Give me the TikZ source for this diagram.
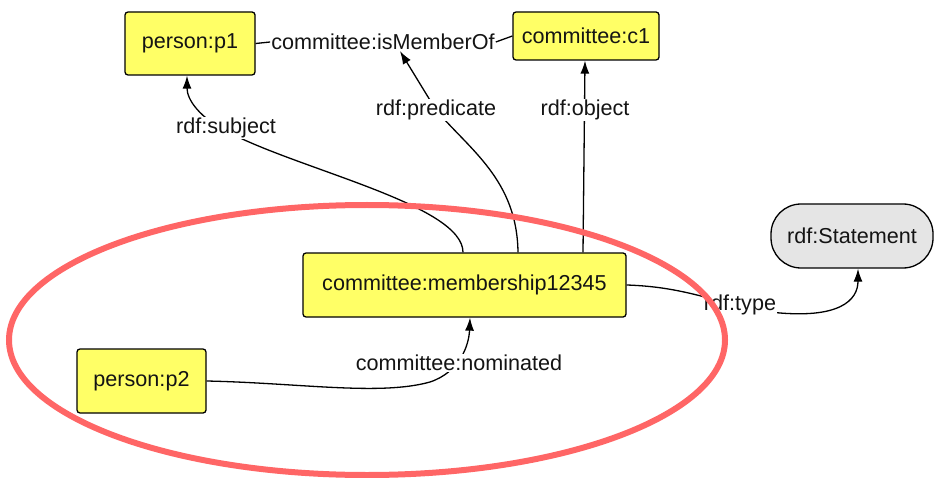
\documentclass[tikz,border=0pt]{standalone}
\usepackage{fontspec}
\setmainfont{Liberation Sans}
\usetikzlibrary{arrows.meta}
\definecolor{boxyellow}{RGB}{255,255,102}
\definecolor{stgray}{RGB}{229,229,229}
\definecolor{ringred}{RGB}{255,102,102}
\definecolor{txt}{RGB}{20,20,20}
\begin{document}
\begin{tikzpicture}[x=1pt,y=-1pt,
  every node/.style={font=\fontsize{21.6}{26}\selectfont, text=txt},
  box/.style={draw=black, line width=1.3pt, fill=boxyellow, rounded corners=3pt, inner sep=0pt},
  pill/.style={draw=black, line width=1.3pt, fill=stgray, rounded corners=30pt, inner sep=0pt},
  lbl/.style={fill=white, inner sep=1pt},
  edge/.style={draw=black, line width=1.3pt},
  arr/.style={edge, -{Latex[length=13pt,width=9pt]}}
]
\useasboundingbox (0,0) rectangle (936,478);

\node[box, minimum width=130pt, minimum height=63pt] (p1) at (190,43.5) {person:p1};
\node[box, minimum width=146pt, minimum height=48pt] (c1) at (586,36) {committee:c1};
\node[box, minimum width=323pt, minimum height=64pt] (m) at (464.5,285) {committee:membership12345};
\node[box, minimum width=129pt, minimum height=64pt] (p2) at (141.5,381) {person:p2};
\node[pill, minimum width=162pt, minimum height=64pt] (st) at (852,236) {rdf:Statement};

% isMemberOf
\node[lbl] (iso) at (383,42) {committee:isMemberOf};
\draw[edge] (p1.east) -- (iso.west);
\draw[edge] (iso.east) -- (c1.west);

% rdf:subject
\draw[arr] ([xshift=-1.5pt]m.north) .. controls (463,205) and (300,170) .. (228,132)
  .. controls (200,118) and (187,100) .. ([xshift=-3pt]p1.south);
\node[lbl] (lsub) at (226,128) {rdf:subject};

% rdf:predicate
\draw[arr] ([xshift=53.5pt]m.north) .. controls (517,180) and (470,150) .. (436,110)
  -- ([xshift=17pt]iso.south);
\node[lbl] (lpred) at (436,110) {rdf:predicate};

% rdf:object
\draw[arr] ([xshift=118.5pt]m.north) -- ([xshift=-1pt]c1.south);
\node[lbl] (lobj) at (585,110) {rdf:object};

% rdf:type
\draw[arr] (m.east) .. controls (690,287) and (720,305) .. (770,312)
  .. controls (840,320) and (858,300) .. ([xshift=6pt]st.south);
\node[lbl] (ltype) at (740,305) {rdf:type};

% committee:nominated
\draw[arr] (p2.east) .. controls (300,383) and (380,396) .. (430,382)
  .. controls (460,372) and (469,345) .. ([xshift=5.5pt]m.south);
\node[lbl] (lnom) at (459,363) {committee:nominated};

% ring
\draw[ringred, line width=6pt] (367,340) ellipse [x radius=358, y radius=135];
\end{tikzpicture}
\end{document}
